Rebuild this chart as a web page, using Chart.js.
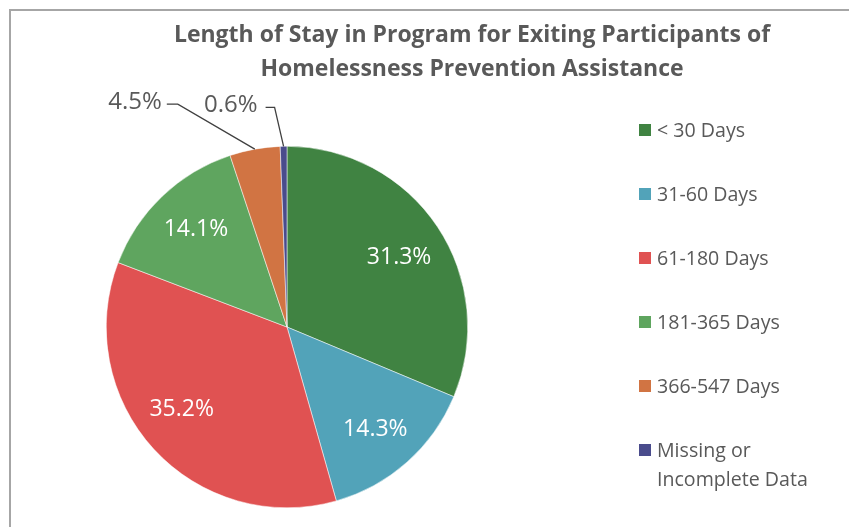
<!DOCTYPE html>
<html>
<head>
<meta charset="utf-8">
<script src="https://cdn.jsdelivr.net/npm/chart.js@4.4.1/dist/chart.umd.min.js"></script>
<style>
  body { margin: 0; background: #fff; font-family: "Open Sans", sans-serif; }
  #wrap { position: relative; width: 849px; height: 527px; overflow: hidden; }
  #frame { position: absolute; left: 9px; top: 9px; width: 900px; height: 600px;
           border-left: 2px solid #a6a6a6; border-top: 2px solid #a6a6a6; }
  #title { position: absolute; left: 122px; width: 700px; top: 16px; text-align: center;
           color: #595959; font-weight: bold; font-size: 23px; line-height: 34px; }
  #legend { position: absolute; left: 639px; top: 0; color: #595959; font-size: 19.6px; }
  .item { position: absolute; left: 0; white-space: nowrap; line-height: 29px; }
  .box { position: absolute; left: 0; top: 9px; width: 12px; height: 12px; }
  .txt { position: absolute; left: 18px; top: 0; }
  canvas { position: absolute; left: 0; top: 0; }
</style>
</head>
<body>
<div id="wrap">
  <div id="frame"></div>
  <canvas id="pieChart" width="849" height="527"></canvas>
  <div id="title">Length of Stay in Program for Exiting Participants of<br>Homelessness Prevention Assistance</div>
  <div id="legend"></div>
</div>
<script>
// chart data
var categories = ["< 30 Days", "31-60 Days", "61-180 Days", "181-365 Days", "366-547 Days", "Missing or\nIncomplete Data"];
var percents = [31.3, 14.3, 35.2, 14.1, 4.5, 0.6];
var sliceColors = ["#408342", "#52a3b9", "#e05252", "#5fa55f", "#d17443", "#4a4c8c"];

// small nudges so inside labels sit where Excel put them
var labelNudge = [[0, 5], [-1, 2], [-6, -8], [2, 0], [0, 0], [0, 0]];

// where the small slices put their callout (offset of the elbow from the arc edge)
var callouts = {
  4: { dx: -77, dy: -45, run: 11, gap: 5 },
  5: { dx: -9, dy: -39, run: 9, gap: 8 }
};

// legend built by hand so the two-line label works
var legendEl = document.getElementById("legend");
categories.forEach(function (name, i) {
  var item = document.createElement("div");
  item.className = "item";
  item.style.top = (115 + i * 64) + "px";
  var box = document.createElement("div");
  box.className = "box";
  box.style.background = sliceColors[i];
  var txt = document.createElement("div");
  txt.className = "txt";
  txt.innerHTML = name.replace("\n", "<br>");
  item.appendChild(box);
  item.appendChild(txt);
  legendEl.appendChild(item);
});

// draws the percent labels, inside for big slices, callouts for small ones
var sliceLabels = {
  id: "sliceLabels",
  afterDatasetsDraw: function (chart) {
    var c = chart.ctx;
    var meta = chart.getDatasetMeta(0);
    c.save();
    c.textBaseline = "middle";
    meta.data.forEach(function (arc, i) {
      var p = arc.getProps(["x", "y", "startAngle", "endAngle", "outerRadius"], true);
      var mid = (p.startAngle + p.endAngle) / 2;
      var text = percents[i].toFixed(1) + "%";
      var co = callouts[i];
      if (!co) {
        var d = p.outerRadius * 0.745;
        c.font = "23px 'Open Sans'";
        c.fillStyle = "#ffffff";
        c.textAlign = "center";
        c.fillText(text, p.x + Math.cos(mid) * d + labelNudge[i][0],
                         p.y + Math.sin(mid) * d + labelNudge[i][1]);
      } else {
        var ax = p.x + Math.cos(mid) * p.outerRadius;
        var ay = p.y + Math.sin(mid) * p.outerRadius;
        var ex = ax + co.dx, ey = ay + co.dy;
        c.strokeStyle = "#404040";
        c.lineWidth = 1.3;
        c.beginPath();
        c.moveTo(ax, ay);
        c.lineTo(ex, ey);
        c.lineTo(ex - co.run, ey);
        c.stroke();
        c.font = "24px 'Open Sans'";
        c.fillStyle = "#595959";
        c.textAlign = "right";
        c.fillText(text, ex - co.run - co.gap, ey - 2);
      }
    });
    c.restore();
  }
};

var ctx = document.getElementById("pieChart");

new Chart(ctx, {
  type: "pie",
  data: {
    labels: categories,
    datasets: [
      {
        data: percents,
        backgroundColor: sliceColors,
        borderColor: "#ffffff",
        borderWidth: 0.5,
      },
    ],
  },
  options: {
    responsive: false,
    animation: false,
    layout: {
      padding: { left: 106, right: 381, top: 146, bottom: 19 },
    },
    plugins: {
      legend: { display: false },
      title: { display: false },
      tooltip: { enabled: false },
    },
  },
  plugins: [sliceLabels],
});
</script>
</body>
</html>
